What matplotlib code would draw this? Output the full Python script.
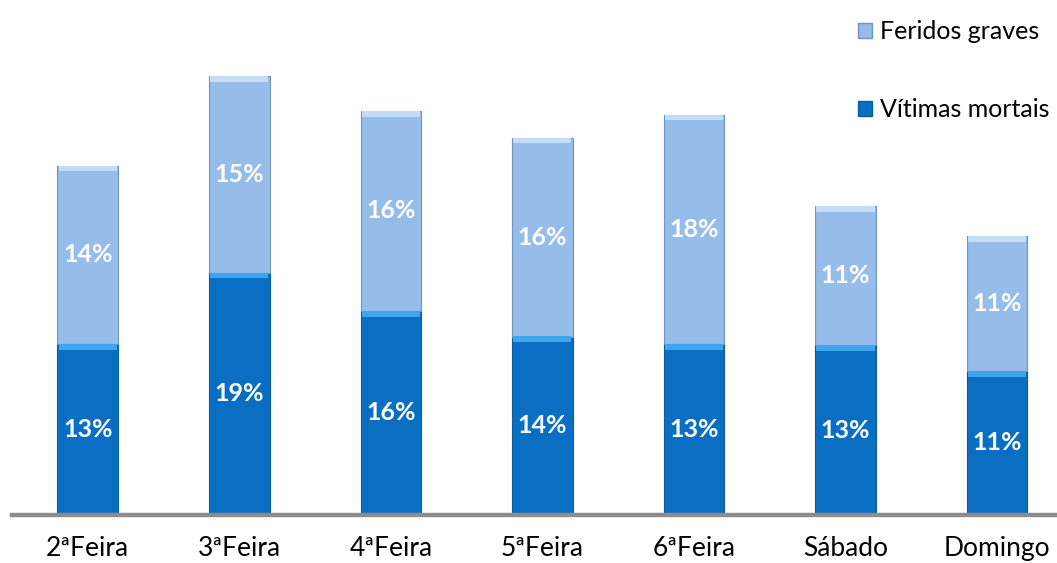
import numpy as np
import matplotlib
matplotlib.use("Agg")
import matplotlib.pyplot as plt
from matplotlib.patches import Patch

# dados (% do total de cada série)
dias = ["2ªFeira", "3ªFeira", "4ªFeira", "5ªFeira", "6ªFeira", "Sábado", "Domingo"]
vitimas_mortais = [13.4, 19.0, 16.0, 14.0, 13.4, 13.3, 11.3]
feridos_graves = [14.0, 15.4, 15.7, 15.6, 18.0, 10.9, 10.6]

COR_MORTAIS = "#0A6FC2"
COR_FERIDOS = "#96BCEA"
TOPO_MORTAIS = "#3FA6EE"
TOPO_FERIDOS = "#C4DDF7"

plt.rcParams["font.family"] = ["Lato", "DejaVu Sans"]

fig = plt.figure(figsize=(10.57, 5.63), dpi=100)
ax = fig.add_axes([12 / 1057, 48 / 563, 1 - 12 / 1057, 1 - 48 / 563])

x = np.arange(len(dias))
w = 0.40
mort = np.array(vitimas_mortais)
fer = np.array(feridos_graves)

ax.bar(x, mort, w, color=COR_MORTAIS, edgecolor="#0B5A9C", linewidth=0.8, zorder=2)
ax.bar(x, fer, w, bottom=mort, color=COR_FERIDOS, edgecolor="#6F93BE", linewidth=0.8, zorder=2)

# faixa clara no topo de cada segmento (efeito bisel)
faixa = 0.45
ax.bar(x, faixa, w * 0.96, bottom=mort - faixa, color=TOPO_MORTAIS, linewidth=0, zorder=3)
ax.bar(x, faixa, w * 0.96, bottom=mort + fer - faixa, color=TOPO_FERIDOS, linewidth=0, zorder=3)

for xi, m, f in zip(x, mort, fer):
    ax.text(xi, m / 2, f"{round(m)}%", ha="center", va="center", color="white",
            fontsize=18, fontweight="bold", zorder=4)
    ax.text(xi, m + f / 2, f"{round(f)}%", ha="center", va="center", color="white",
            fontsize=18, fontweight="bold", zorder=4)

ax.set_xlim(-0.5, (1057 - 88) / 151.5)
ax.set_ylim(0, 515 / 12.75)
ax.set_xticks(x)
ax.set_xticklabels(dias, fontsize=19)
ax.tick_params(axis="x", length=0, pad=15)
ax.set_yticks([])
for s in ["top", "right", "left"]:
    ax.spines[s].set_visible(False)
ax.spines["bottom"].set_color("#8C8C8C")
ax.spines["bottom"].set_linewidth(3.2)
ax.spines["bottom"].set_zorder(5)

handles = [Patch(facecolor=COR_FERIDOS, edgecolor="#6F93BE"),
           Patch(facecolor=COR_MORTAIS, edgecolor="#0B5A9C")]
ax.legend(handles, ["Feridos graves", "Vítimas mortais"], loc="upper left",
          bbox_to_anchor=(838 / 1057, 1.0), bbox_transform=fig.transFigure,
          frameon=False, fontsize=18, handlelength=0.55, handleheight=0.55,
          handletextpad=0.35, labelspacing=2.2, borderaxespad=0.4)

fig.savefig("out.png", dpi=100)
